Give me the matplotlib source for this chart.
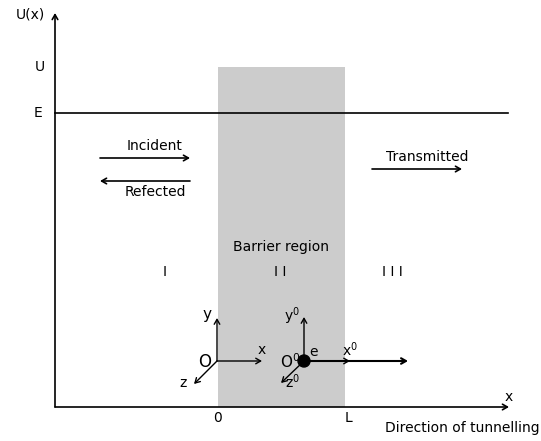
import matplotlib
matplotlib.use('Agg')
import matplotlib.pyplot as plt
from matplotlib.patches import Rectangle, Circle

# diagram geometry (pixel units of the 541x441 canvas, y downwards)
axis_origin = [55, 407]
axis_ends = [509, 13]          # x-axis end, y-axis end
levels = {'U': 67, 'E': 113}
barrier = [218, 345]           # 0 .. L
flux_arrows = [('Incident', 100, 190, 158), ('Refected', 190, 100, 181), ('Transmitted', 372, 462, 169)]
regions = [('I', 165), ('I I', 280), ('I I I', 392)]
frame_O = [217, 361]
frame_O2 = [304, 361]

fig = plt.figure(figsize=(5.41, 4.41), dpi=100)
ax = fig.add_axes([0, 0, 1, 1])
ax.set_xlim(0, 541)
ax.set_ylim(441, 0)
ax.axis('off')
fs = 10


def arrow(x0, y0, x1, y1, lw=1.0):
    ax.annotate('', xy=(x1, y1), xytext=(x0, y0),
                arrowprops=dict(arrowstyle='->,head_width=0.2,head_length=0.35',
                                lw=lw, color='black', shrinkA=0, shrinkB=0))


# barrier
ax.add_patch(Rectangle((barrier[0], levels['U']), barrier[1] - barrier[0],
                       axis_origin[1] - levels['U'], color='#cccccc', lw=0))

# axes
arrow(axis_origin[0], axis_origin[1], axis_ends[0], axis_origin[1], lw=1.2)
arrow(axis_origin[0], axis_origin[1], axis_origin[0], axis_ends[1], lw=1.2)
ax.text(45, 14, 'U(x)', fontsize=fs, ha='right', va='center')
ax.text(509, 397, 'x', fontsize=fs, ha='center', va='center')
ax.text(540, 428, 'Direction of tunnelling', fontsize=fs, ha='right', va='center')
ax.text(barrier[0], 418, '0', fontsize=fs, ha='center', va='center')
ax.text(barrier[1] + 3, 418, 'L', fontsize=fs, ha='center', va='center')

# energy levels
ax.text(40, levels['U'], 'U', fontsize=fs, ha='center', va='center')
ax.text(38, levels['E'], 'E', fontsize=fs, ha='center', va='center')
ax.plot([axis_origin[0], 508], [levels['E'], levels['E']], color='black', lw=1.2)

# incident / reflected / transmitted
for name, xa, xb, y in flux_arrows:
    arrow(xa, y, xb, y, lw=1.2)
    xc = (xa + xb) / 2
    if name == 'Refected':
        ax.text(xc + 10, y + 11, name, fontsize=fs, ha='center', va='center')
    else:
        ax.text(xc + 10, y - 12, name, fontsize=fs, ha='center', va='center')

ax.text(281, 247, 'Barrier region', fontsize=fs, ha='center', va='center')
for lab, x in regions:
    ax.text(x, 272, lab, fontsize=fs, ha='center', va='center')

# lab frame O
ox, oy = frame_O
arrow(ox, oy, ox, 318, lw=1.0)
arrow(ox, oy, 262, oy, lw=1.0)
arrow(ox, oy, 194, 384, lw=1.0)
ax.text(207, 314, 'y', fontsize=fs + 1, ha='center', va='center')
ax.text(262, 350, 'x', fontsize=fs, ha='center', va='center')
ax.text(205, 362, 'O', fontsize=fs + 2, ha='center', va='center')
ax.text(183, 383, 'z', fontsize=fs, ha='center', va='center')

# moving frame O'
px, py = frame_O2
arrow(px, py, px, 317, lw=1.0)
arrow(px, py, 350, py, lw=1.0)
arrow(px, py, 408, py, lw=1.5)
arrow(px, py, 281, 383, lw=1.0)
ax.add_patch(Circle((px, py), 6, color='black', zorder=5))
ax.text(313, 352, 'e', fontsize=fs, ha='center', va='center')
ax.text(350, 350, 'x$^0$', fontsize=fs, ha='center', va='center')
ax.text(292, 316, 'y$^0$', fontsize=fs, ha='center', va='center')
ax.text(290, 362, 'O$^0$', fontsize=fs + 1, ha='center', va='center')
ax.text(292, 382, 'z$^0$', fontsize=fs, ha='center', va='center')

fig.savefig('out.png', dpi=100)
